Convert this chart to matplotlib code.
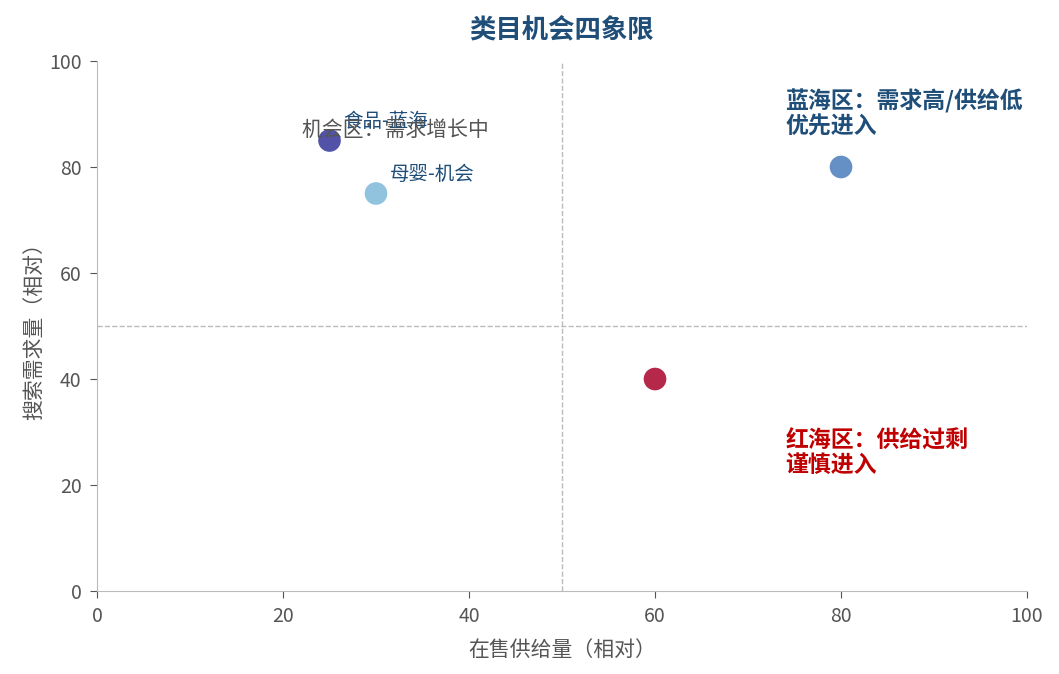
import matplotlib
matplotlib.use("Agg")
import matplotlib.pyplot as plt

plt.rcParams['font.family'] = ['Noto Sans CJK SC', 'DejaVu Sans']

# 数据
supply = [25, 30, 80, 60]
demand = [85, 75, 80, 40]
colors = ['#5253a8', '#92c3de', '#6590c5', '#b6284a']
labels = ['食品-蓝海', '母婴-机会', '', '']

fig = plt.figure(figsize=(10.59, 6.74), dpi=100)
ax = fig.add_axes([0.0916, 0.1231, 0.8782, 0.7864])

ax.scatter(supply, demand, s=300, c=colors, edgecolors='white', linewidths=1, zorder=3)
for x, y, t in zip(supply, demand, labels):
    if t:
        ax.annotate(t, (x, y), xytext=(10, 6), textcoords='offset points',
                    fontsize=14, color='#1f4e79', ha='left', va='bottom')

ax.axvline(50, color='#bbbbbb', ls='--', lw=1)
ax.axhline(50, color='#bbbbbb', ls='--', lw=1)

ax.text(74, 90, '蓝海区：需求高/供给低\n优先进入', fontsize=16.5, fontweight='bold',
        color='#1f4e79', ha='left', va='center', linespacing=1.12)
ax.text(74, 26, '红海区：供给过剩\n谨慎进入', fontsize=16.5, fontweight='bold',
        color='#c00000', ha='left', va='center', linespacing=1.12)
ax.text(22, 87, '机会区：需求增长中', fontsize=15, color='#555555', ha='left', va='center')

ax.set_xlim(0, 100)
ax.set_ylim(0, 100)
ax.set_xlabel('在售供给量（相对）', fontsize=15, color='#555555', labelpad=8)
ax.set_ylabel('搜索需求量（相对）', fontsize=15, color='#555555', labelpad=3)
ax.set_title('类目机会四象限', fontsize=19, fontweight='bold', color='#1f4e79', pad=17)

for s in ['top', 'right']:
    ax.spines[s].set_visible(False)
for s in ['left', 'bottom']:
    ax.spines[s].set_color('#bbbbbb')
ax.tick_params(colors='#555555', labelsize=14, length=5, pad=6)

fig.savefig('out.png', dpi=100)
